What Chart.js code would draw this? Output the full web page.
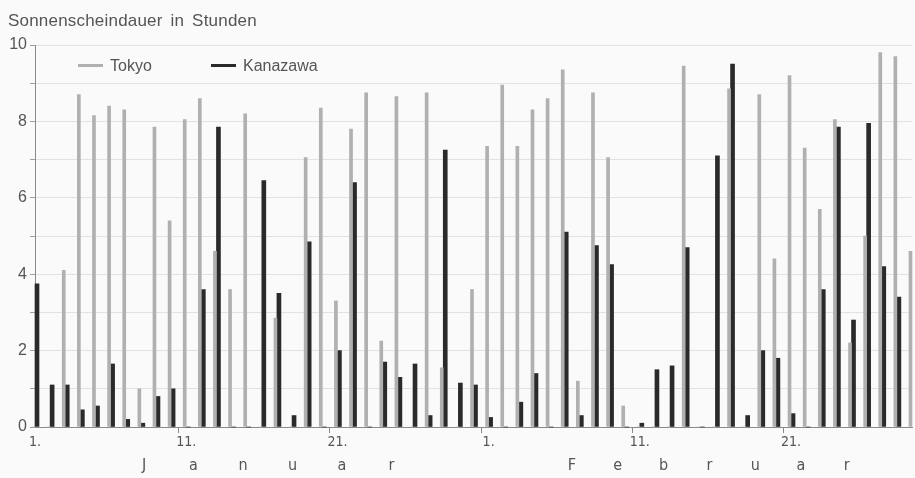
<!DOCTYPE html>
<html><head><meta charset="utf-8">
<script src="https://cdn.jsdelivr.net/npm/chart.js@4/dist/chart.umd.min.js"></script>
<style>
html,body{margin:0;padding:0;background:#fafafa;}
#wrap{width:915px;height:478px;position:relative;}
</style>
</head><body><div id="wrap"><canvas id="c"></canvas></div>
<script>
// Day-of-month for each slot as placed on the reference axis
const days = [1,2,3,4,5,6,7,8,9,10,11,12,13,14,15,16,17,18,19,20,21,22,23,24,25,26,27,28,29,30,
              1,2,3,4,5,6,7,8,9,10,11,12,13,14,15,16,17,18,19,20,21,22,23,24,25,26,27,28,29];
const tokyo = [0,0,4.1,8.7,8.15,8.4,8.3,1.0,7.85,5.4,
               8.05,8.6,4.6,3.6,8.2,0,2.85,0,7.05,8.35,
               3.3,7.8,8.75,2.25,8.65,0,8.75,1.55,0,3.6,
               7.35,8.95,7.35,8.3,8.6,9.35,1.2,8.75,7.05,0.55,
               0,0,0,9.45,0,0,8.85,0,8.7,4.4,
               9.2,7.3,5.7,8.05,2.2,5.0,9.8,9.7,4.6];
const kanazawa = [3.75,1.1,1.1,0.45,0.55,1.65,0.2,0.1,0.8,1.0,
                  0,3.6,7.85,0,0,6.45,3.5,0.3,4.85,0,
                  2.0,6.4,0,1.7,1.3,1.65,0.3,7.25,1.15,1.1,
                  0.25,0,0.65,1.4,0,5.1,0.3,4.75,4.25,0,
                  0.1,1.5,1.6,4.7,0,7.1,9.5,0.3,2.0,1.8,
                  0.35,0,3.6,7.85,2.8,7.95,4.2,3.4,null];
const yTickLabels = [0,2,4,6,8,10];
const xTickDays = [1,11,21];
const monthNames = ['Januar','Februar'];
const seriesNames = ['Tokyo','Kanazawa'];
const titleText = 'Sonnenscheindauer in Stunden';

const TOKYO_COLOR = '#b0b0b0';
const KANA_COLOR = '#2a2a2a';
const TEXT_COLOR = '#555555';
const FONT = '"Liberation Sans", Arial, sans-serif';
const NARROW = '"Liberation Sans Narrow", "DejaVu Sans Condensed", "Liberation Sans", sans-serif';

const shown = i => xTickDays.includes(days[i]);

const decor = {
  id: 'decor',
  beforeDraw(chart) {
    const ctx = chart.ctx;
    ctx.save();
    ctx.fillStyle = '#fafafa';
    ctx.fillRect(0, 0, chart.width, chart.height);
    ctx.restore();
  },
  afterDraw(chart) {
    const ctx = chart.ctx;
    ctx.save();
    // title
    ctx.fillStyle = TEXT_COLOR;
    ctx.font = '17px ' + FONT;
    ctx.textBaseline = 'alphabetic';
    ctx.textAlign = 'left';
    try { ctx.wordSpacing = '3px'; ctx.letterSpacing = '0.2px'; } catch (e) {}
    ctx.fillText(titleText, 8, 26);
    try { ctx.wordSpacing = '0px'; ctx.letterSpacing = '0px'; } catch (e) {}
    // legend
    const legendItems = [
      {x: 78, tx: 110, color: TOKYO_COLOR, text: seriesNames[0]},
      {x: 211, tx: 243, color: KANA_COLOR, text: seriesNames[1]}
    ];
    ctx.font = '16px ' + FONT;
    legendItems.forEach(it => {
      ctx.strokeStyle = it.color;
      ctx.lineWidth = 3;
      ctx.beginPath();
      ctx.moveTo(it.x, 65.5);
      ctx.lineTo(it.x + 25, 65.5);
      ctx.stroke();
      ctx.fillStyle = TEXT_COLOR;
      ctx.fillText(it.text, it.tx, 71);
    });
    // month names, letter-spaced
    ctx.font = '16px ' + NARROW;
    ctx.fillStyle = TEXT_COLOR;
    ctx.textAlign = 'center';
    const monthLayout = [{start: 144, step: 49.5}, {start: 572, step: 45.8}];
    monthNames.forEach((m, k) => {
      const L = monthLayout[k];
      [...m].forEach((ch, i) => ctx.fillText(ch, L.start + i * L.step, 470));
    });
    ctx.restore();
  }
};

new Chart(document.getElementById('c'), {
  type: 'bar',
  data: {
    labels: days.map(String),
    datasets: [
      {label: seriesNames[0], data: tokyo, backgroundColor: TOKYO_COLOR, barThickness: 3, borderWidth: 0, clip: false},
      {label: seriesNames[1], data: kanazawa, backgroundColor: KANA_COLOR, barThickness: 4, borderWidth: 0, clip: false}
    ]
  },
  options: {
    responsive: true,
    maintainAspectRatio: false,
    animation: false,
    devicePixelRatio: 1,
    layout: {padding: {left: 0, right: 3, top: 45, bottom: 0}},
    plugins: {legend: {display: false}, title: {display: false}, tooltip: {enabled: false}},
    scales: {
      x: {
        type: 'category',
        offset: false,
        grid: {
          display: true, drawOnChartArea: false, drawTicks: true, tickLength: 6,
          color: c => shown(c.index) ? '#8a8a8a' : 'rgba(0,0,0,0)',
          tickColor: c => shown(c.index) ? '#8a8a8a' : 'rgba(0,0,0,0)'
        },
        border: {display: true, color: '#8a8a8a', width: 1},
        ticks: {
          autoSkip: false, maxRotation: 0, minRotation: 0, padding: 1,
          color: TEXT_COLOR, font: {family: NARROW, size: 14},
          callback: (v, i) => shown(i) ? days[i] + '.' : ''
        },
        afterFit: s => { s.height = 51; }
      },
      y: {
        min: 0, max: 10,
        ticks: {
          stepSize: 1, padding: 3, color: TEXT_COLOR, font: {family: FONT, size: 16},
          callback: v => yTickLabels.includes(v) ? String(v) : ''
        },
        grid: {color: '#e2e2e2', tickLength: 5, tickColor: '#a0a0a0', lineWidth: 1},
        border: {display: true, color: '#8a8a8a', width: 1},
        afterFit: s => { s.width = 35; }
      }
    }
  },
  plugins: [decor]
});
</script>
</body></html>
